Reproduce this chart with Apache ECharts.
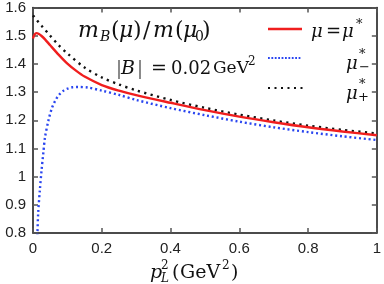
<!DOCTYPE html>
<html><head><meta charset="utf-8">
<script src="https://cdn.jsdelivr.net/npm/echarts@6/dist/echarts.min.js"></script>
<style>html,body{margin:0;padding:0;background:#fff}#c{width:384px;height:284px}</style>
</head><body><div id="c"></div>
<script>
// x ticks / y ticks
const xTicks = [0, 0.2, 0.4, 0.6, 0.8, 1];
const yTicks = [0.8, 0.9, 1.0, 1.1, 1.2, 1.3, 1.4, 1.5, 1.6];

// mu = mu*  (red, solid)
const redX = [0, 0.004, 0.01, 0.016, 0.025, 0.035, 0.05, 0.075, 0.1, 0.125, 0.15, 0.2, 0.25, 0.3, 0.4, 0.5, 0.6, 0.7, 0.8, 0.9, 1.0];
const redY = [1.490, 1.503, 1.509, 1.507, 1.499, 1.487, 1.466, 1.432, 1.401, 1.376, 1.355, 1.325, 1.305, 1.289, 1.262, 1.236, 1.213, 1.193, 1.175, 1.160, 1.147];

// mu*_- (blue, dotted)
const blueX = [0.009, 0.013, 0.015, 0.02, 0.025, 0.03, 0.035, 0.045, 0.055, 0.065, 0.075, 0.09, 0.1, 0.115, 0.13, 0.16, 0.2, 0.25, 0.3, 0.4, 0.5, 0.6, 0.7, 0.8, 0.9, 1.0];
const blueY = [0.62, 0.80, 0.87, 0.953, 1.024, 1.084, 1.14, 1.20, 1.243, 1.27, 1.289, 1.306, 1.312, 1.317, 1.318, 1.316, 1.305, 1.290, 1.272, 1.243, 1.218, 1.195, 1.175, 1.158, 1.143, 1.130];

// mu*_+ (black, dotted)
const blackX = [0, 0.01, 0.025, 0.05, 0.075, 0.1, 0.15, 0.2, 0.25, 0.3, 0.4, 0.5, 0.6, 0.7, 0.8, 0.9, 1.0];
const blackY = [1.572, 1.557, 1.535, 1.500, 1.466, 1.437, 1.387, 1.352, 1.327, 1.306, 1.272, 1.244, 1.220, 1.199, 1.181, 1.166, 1.153];

const zip = (a, b) => a.map((v, i) => [v, b[i]]);
const RED = '#f01e1e', BLUE = '#2a46f0', BLACK = '#111';
const SERIF = '"DejaVu Serif", "Liberation Serif", serif';
const SERIF2 = '"Liberation Serif", "DejaVu Serif", serif';

const chart = echarts.init(document.getElementById('c'), null, {renderer: 'canvas'});

const axisCommon = {
  type: 'value',
  axisLine: {show: true, onZero: false, lineStyle: {color: '#111', width: 1.5}},
  axisTick: {show: true, inside: true, length: 5, lineStyle: {color: '#555', width: 1.5}},
  splitLine: {show: false}
};
const lblStyle = {fontFamily: '"Liberation Sans", Arial, sans-serif', fontSize: 15, color: '#222'};
const fmt = v => String(+(+v).toFixed(1));

function g(x, y, s, size, italic, fam) {
  return {type: 'text', x: x, y: y, z: 100,
    style: {text: s, font: (italic ? 'italic ' : '') + size + 'px ' + (fam || SERIF), fill: '#111', align: 'left', verticalAlign: 'middle'}};
}

const T = 31;   // title mid line
const Bm = 69;  // |B| mid line
const XT = 273; // x title mid line

chart.setOption({
  animation: false,
  backgroundColor: '#fff',
  grid: {left: 33, right: 4, top: 7, bottom: 51, containLabel: false},
  xAxis: [
    Object.assign({}, axisCommon, {position: 'bottom', min: 0, max: 1, interval: 0.2,
      axisLabel: Object.assign({margin: 8, formatter: fmt}, lblStyle)}),
    Object.assign({}, axisCommon, {position: 'top', min: 0, max: 1, interval: 0.2, axisLabel: {show: false}})
  ],
  yAxis: [
    Object.assign({}, axisCommon, {position: 'left', min: 0.8, max: 1.6, interval: 0.1,
      axisLabel: Object.assign({margin: 7, formatter: fmt}, lblStyle)}),
    Object.assign({}, axisCommon, {position: 'right', min: 0.8, max: 1.6, interval: 0.1, axisLabel: {show: false}})
  ],
  series: [
    {type: 'line', name: 'mu-', data: zip(blueX, blueY), showSymbol: false, clip: true,
      smooth: 0.3,
      lineStyle: {color: BLUE, width: 2.4, type: [2, 2.8], cap: 'butt'}},
    {type: 'line', name: 'mu+', data: zip(blackX, blackY), showSymbol: false, clip: true,
      smooth: 0.3,
      lineStyle: {color: BLACK, width: 2.4, type: [2.2, 4.4], cap: 'butt'}},
    {type: 'line', name: 'mu', data: zip(redX, redY), showSymbol: false, clip: true,
      smooth: 0.3,
      lineStyle: {color: RED, width: 2.4}}
  ],
  graphic: [
    // title m_B(mu)/m(mu_0)
    g(78, T, 'm', 22, true),
    g(100, T + 6, 'B', 14, true),
    g(111, T, '(', 22, false),
    g(119, T, 'μ', 22, true),
    g(133, T, ')', 22, false),
    g(143, T, '/', 22, false),
    g(153, T, 'm', 22, true),
    g(175, T, '(', 22, false),
    g(183, T, 'μ', 22, true),
    g(195, T + 6, '0', 14, false),
    g(202, T, ')', 22, false),
    // |B| = 0.02 GeV^2
    g(117, Bm, '|', 20, false, SERIF2),
    g(121, Bm, 'B', 19, true),
    g(138, Bm, '|', 20, false, SERIF2),
    g(151, Bm, '=', 19, false),
    g(171, Bm, '0.02', 18, false),
    g(213, Bm, 'GeV', 17, false),
    g(248, Bm - 7, '2', 12, false),
    // legend
    {type: 'line', z: 100, shape: {x1: 268, y1: 29, x2: 302, y2: 29}, style: {stroke: RED, lineWidth: 2.4}},
    {type: 'line', z: 100, shape: {x1: 268, y1: 58, x2: 302, y2: 58}, style: {stroke: BLUE, lineWidth: 2.2, lineDash: [1.8, 1.6]}},
    {type: 'line', z: 100, shape: {x1: 268, y1: 88, x2: 303, y2: 88}, style: {stroke: BLACK, lineWidth: 2.2, lineDash: [2, 4.5]}},
    g(311, 32, 'μ', 18, true),
    g(326, 32, '=', 18, false),
    g(342, 32, 'μ', 18, true),
    g(356, 25, '*', 13, false),
    g(346, 64, 'μ', 18, true),
    g(359, 55, '*', 13, false),
    g(359, 68, '−', 13, false),
    g(346, 94, 'μ', 18, true),
    g(359, 85, '*', 13, false),
    g(358, 98, '+', 13, false),
    // x axis title
    g(150, XT, 'p', 19, true),
    g(161, XT + 6, 'L', 12, true),
    g(161, XT - 7, '2', 12, false),
    g(172, XT, '(', 19, false),
    g(180, XT, 'GeV', 19, false),
    g(222, XT - 7, '2', 12, false),
    g(231, XT, ')', 19, false)
  ]
});
</script></body></html>
